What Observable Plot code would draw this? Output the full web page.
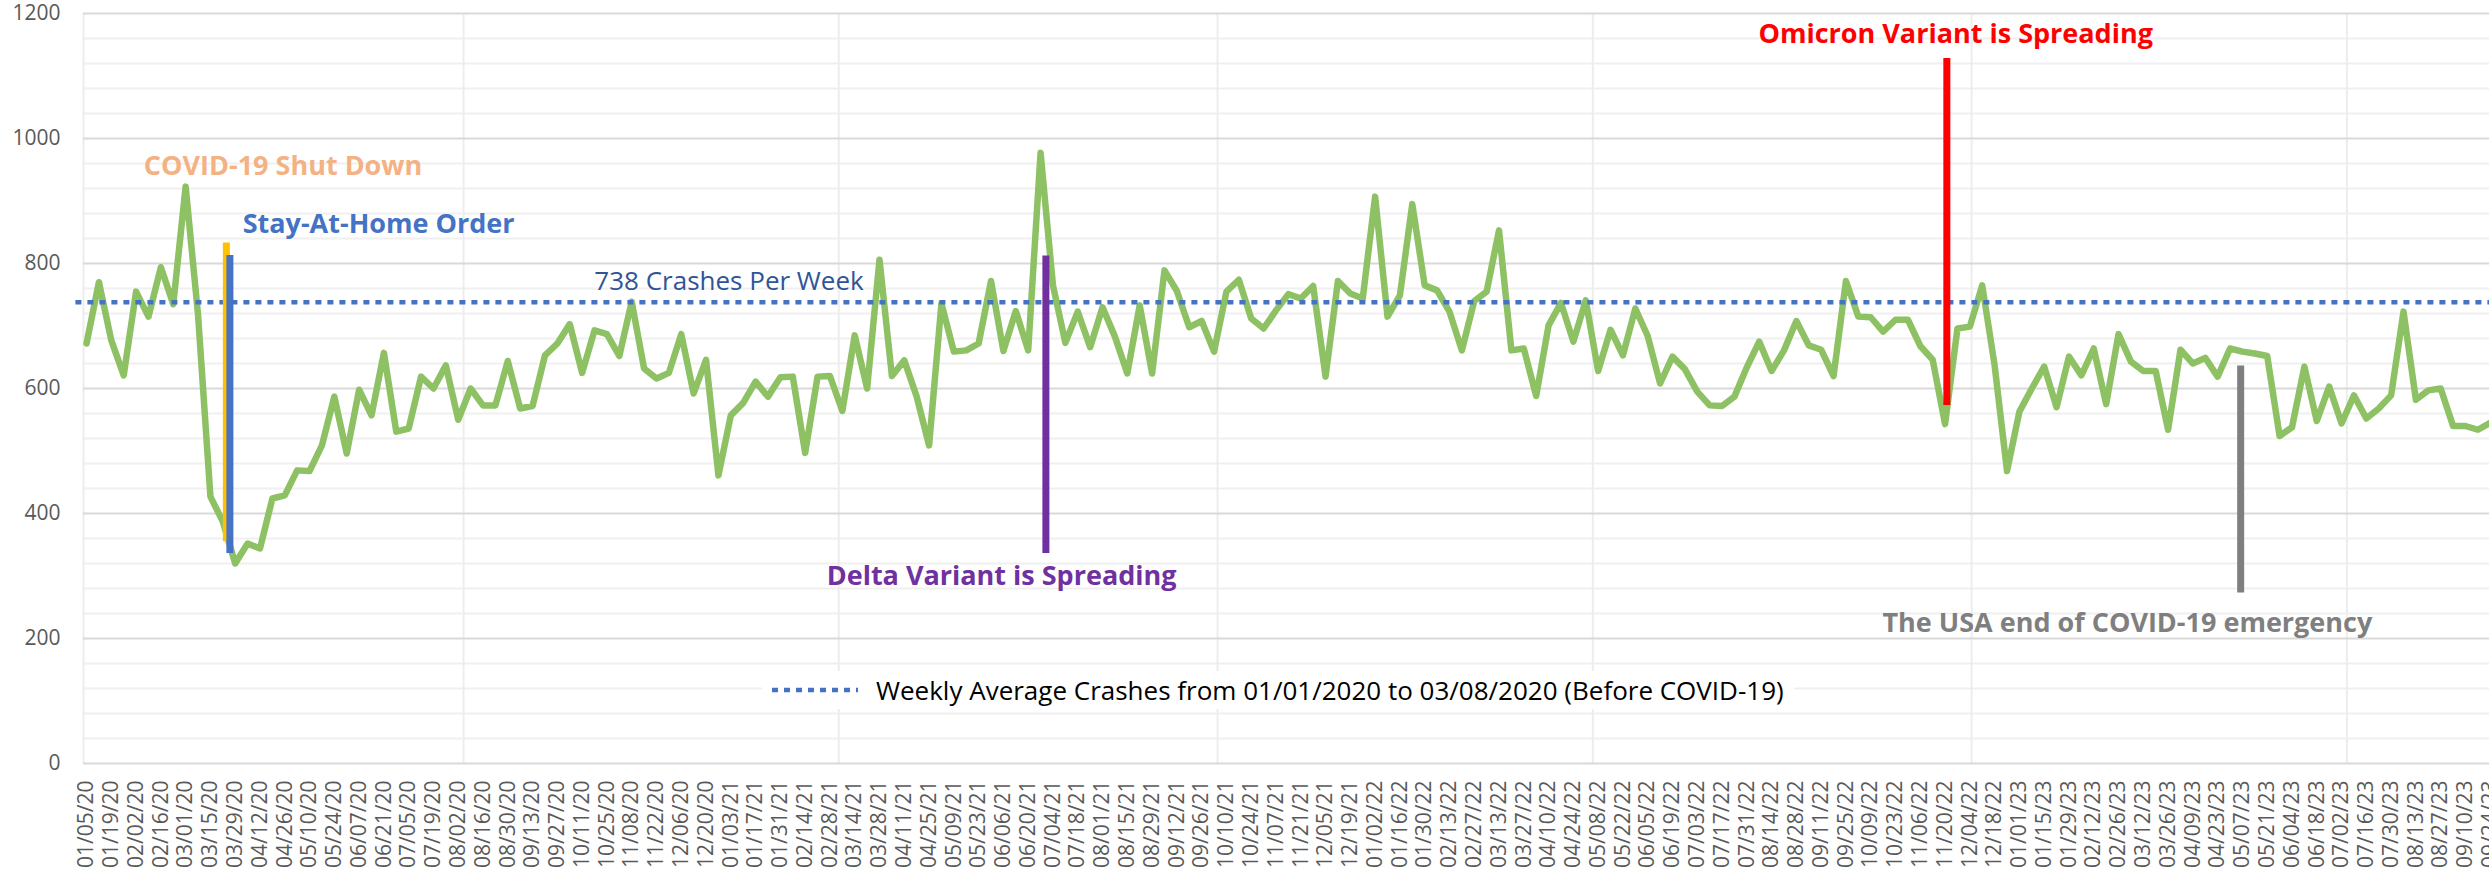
<!DOCTYPE html>
<html>
<head>
<meta charset="utf-8">
<script src="https://cdn.jsdelivr.net/npm/d3@7"></script>
<script src="https://cdn.jsdelivr.net/npm/@observablehq/plot@0.6"></script>
<style>
  html, body { margin: 0; padding: 0; background: #fff; }
  #wrap { position: relative; width: 2489px; height: 876px; overflow: hidden; background: #fff;
          font-family: "Open Sans", Lato, sans-serif; }
  #legend { position: absolute; left: 762px; top: 671px; height: 38px; background: #fff;
            display: flex; align-items: center; gap: 18px; padding: 0 10px; font-size: 26px; color: #000; white-space: nowrap; }
</style>
</head>
<body>
<div id="wrap">
  <div id="chart"></div>
  <div id="legend"></div>
</div>
<script>
// ---------------- data ----------------
const firstWeek = "2020-01-05";
// weekly crash counts, starting the week of 01/05/2020
const crashes = [
  672,770,677,621,755,715,794,735,923,718,
  427,387,320,352,344,424,429,469,468,509,
  587,496,598,557,657,531,536,619,600,637,
  550,600,573,573,644,568,572,653,672,703,
  625,693,687,652,739,632,616,625,687,592,
  646,461,557,577,611,587,618,619,497,619,
  620,564,685,600,806,620,645,587,509,736,
  659,661,672,772,660,724,661,977,765,673,
  723,666,730,683,624,733,624,789,756,698,
  708,659,755,774,712,696,725,751,744,764,
  619,772,752,744,907,715,749,895,765,757,
  723,661,740,755,853,661,664,588,701,737,
  675,741,628,694,653,728,684,608,651,631,
  595,573,572,587,634,675,628,661,708,669,
  662,620,772,715,714,691,710,710,668,646,
  543,696,699,765,637,468,563,600,635,570,
  651,621,664,575,687,643,628,628,534,662,
  640,649,619,664,659,656,652,524,538,635,
  548,603,544,589,552,568,589,723,582,597,
  600,540,540,534,545
];
const averageBeforeCovid = 738;
const averageLabel = "738 Crashes Per Week";
const legendLabel = "Weekly Average Crashes from 01/01/2020 to 03/08/2020 (Before COVID-19)";

const yTicks = [0, 200, 400, 600, 800, 1000, 1200];
const yMinorTicks = [40, 80, 120, 160, 240, 280, 320, 360, 440, 480, 520, 560, 640, 680, 720, 760, 840, 880, 920, 960, 1040, 1080, 1120, 1160];
const xGridDates = ["2020-08-05", "2021-03-05", "2021-10-05", "2022-05-05", "2022-12-05", "2023-07-05"];

// event markers (vertical bars)
const eventDates  = ["2020-03-24", "2020-03-26", "2021-06-30", "2022-11-21", "2023-05-06"];
const eventFrom   = [355, 336, 336, 573, 273];
const eventTo     = [833, 813, 812, 1128, 636];
const eventColors = ["#FFC000", "#4472C4", "#7030A0", "#FF0000", "#7F7F7F"];

// event labels
const labelTexts  = ["COVID-19 Shut Down", "Stay-At-Home Order", "Delta Variant is Spreading", "Omicron Variant is Spreading", "The USA end of COVID-19 emergency"];
const labelDates  = ["2020-04-25", "2020-06-18", "2021-06-05", "2022-11-26", "2023-03-03"];
const labelValues = [955, 863, 300, 1167, 225];
const labelColors = ["#F4B183", "#4472C4", "#7030A0", "#FF0000", "#7F7F7F"];

// ---------------- build ----------------
const parse = d3.utcParse("%Y-%m-%d");
const start = parse(firstWeek);
const series = crashes.map((v, i) => ({date: d3.utcDay.offset(start, 7 * i), crashes: v}));
const xTickDates = d3.range(0, series.length, 2).map(i => series[i].date);
const bars = eventDates.map((d, i) => ({date: parse(d), from: eventFrom[i], to: eventTo[i], color: eventColors[i]}));
const labels = labelTexts.map((t, i) => ({text: t, date: parse(labelDates[i]), value: labelValues[i], color: labelColors[i]}));
const avgRule = [{y: averageBeforeCovid, x1: d3.utcDay.offset(start, -6), x2: d3.utcDay.offset(start, 7 * (series.length + 2))}];
const avgText = [{text: averageLabel, date: parse("2021-01-02"), value: 771}];

const xDomain = [new Date(Date.UTC(2020, 0, 3, 7)), new Date(Date.UTC(2023, 8, 23, 14))];
const fontStack = "'Open Sans', Lato, sans-serif";

const chart = Plot.plot({
  width: 2489,
  height: 876,
  marginLeft: 83,
  marginRight: 0,
  marginTop: 13,
  marginBottom: 113,
  style: {fontFamily: fontStack, fontSize: "21px", color: "#595959", background: "white", overflow: "hidden"},
  color: {type: "identity"},
  x: {type: "utc", domain: xDomain, ticks: xTickDates, tickFormat: d3.utcFormat("%m/%d/%y"),
      tickRotate: -90, tickSize: 0, tickPadding: 17, label: null},
  y: {domain: [0, 1200], ticks: yTicks, tickFormat: d3.format("d"), tickSize: 0, tickPadding: 23, label: null},
  marks: [
    Plot.ruleY(yMinorTicks, {stroke: "#F0F0F0", strokeWidth: 2}),
    Plot.ruleX(xGridDates.map(parse), {stroke: "#EDEDED", strokeWidth: 2}),
    Plot.ruleX([xDomain[0]], {stroke: "#EDEDED", strokeWidth: 2}),
    Plot.ruleY(yTicks, {stroke: "#D9D9D9", strokeWidth: 2}),
    Plot.line(series, {x: "date", y: "crashes", stroke: "#8DC163", strokeWidth: 6.5,
                       strokeLinejoin: "round", strokeLinecap: "round", clip: true}),
    Plot.ruleY(avgRule, {y: "y", x1: "x1", x2: "x2", stroke: "#4472C4", strokeWidth: 4.5, strokeDasharray: "6,6"}),
    Plot.ruleX(bars, {x: "date", y1: "from", y2: "to", stroke: "color", strokeWidth: 7}),
    Plot.text(avgText, {x: "date", y: "value", text: "text", fill: "#2F5597", fontSize: 26}),
    Plot.text(labels, {x: "date", y: "value", text: "text", fill: "color", fontSize: 27, fontWeight: "bold"})
  ]
});
document.getElementById("chart").appendChild(chart);

// legend (inside plot area, like the Excel legend)
const legend = d3.select("#legend");
const sw = legend.append("svg").attr("width", 86).attr("height", 10);
sw.append("line").attr("x1", 0).attr("x2", 86).attr("y1", 5).attr("y2", 5)
  .attr("stroke", "#4472C4").attr("stroke-width", 4.5).attr("stroke-dasharray", "6,6");
legend.append("span").text(legendLabel);
</script>
</body>
</html>
